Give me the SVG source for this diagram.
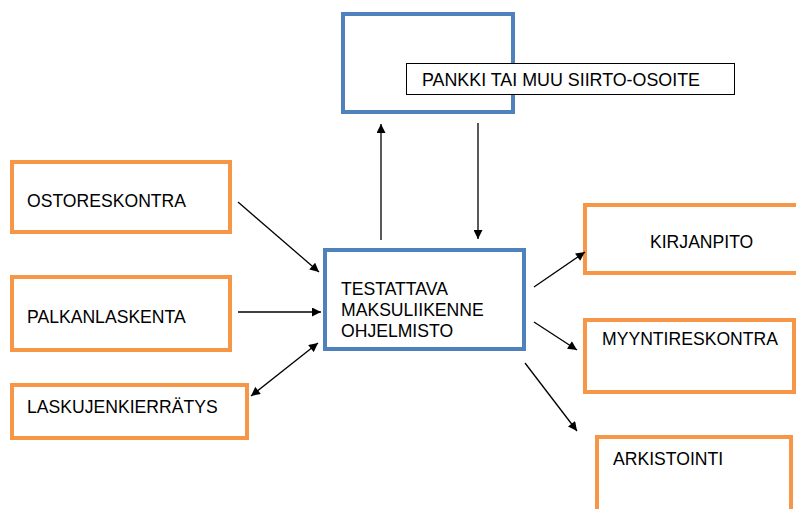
<svg xmlns="http://www.w3.org/2000/svg" width="796" height="509" viewBox="0 0 796 509">
  <style>
    .sys { fill: #ffffff; stroke: #4F81BD; stroke-width: 4; }
    .ext { fill: #ffffff; stroke: #F79646; stroke-width: 4; }
    .lbl { fill: #ffffff; stroke: #000000; stroke-width: 1; }
    text { font-family: "Liberation Sans", Arial, sans-serif; font-size: 17.6px; fill: #000000; }
    .edge { stroke: #000000; stroke-width: 1.3; fill: none; marker-end: url(#arrow); }
  </style>
  <defs>
    <marker id="arrow" viewBox="0 0 10 10" refX="10" refY="5" markerWidth="10" markerHeight="9" markerUnits="userSpaceOnUse" orient="auto-start-reverse">
      <path d="M0,0 L10,5 L0,10 z" fill="#000000"/>
    </marker>
  </defs>

  <rect width="796" height="509" fill="#ffffff"/>

  <!-- bank / transfer address -->
  <g id="pankki">
    <rect class="sys" x="343" y="14" width="170" height="98"/>
    <rect class="lbl" x="406.5" y="63.5" width="328" height="31"/>
    <text x="422" y="86" textLength="278" lengthAdjust="spacingAndGlyphs">PANKKI TAI MUU SIIRTO-OSOITE</text>
  </g>

  <!-- software under test -->
  <g id="testattava">
    <rect class="sys" x="325" y="250" width="199" height="99"/>
    <text x="341" y="295">TESTATTAVA</text>
    <text x="341" y="316">MAKSULIIKENNE</text>
    <text x="341" y="337">OHJELMISTO</text>
  </g>

  <g id="ostoreskontra">
    <rect class="ext" x="12" y="162" width="218" height="70"/>
    <text x="27" y="207">OSTORESKONTRA</text>
  </g>

  <g id="palkanlaskenta">
    <rect class="ext" x="12" y="277" width="218" height="73"/>
    <text x="27" y="323">PALKANLASKENTA</text>
  </g>

  <g id="laskujenkierratys">
    <rect class="ext" x="12" y="385" width="235" height="53"/>
    <text x="27" y="413">LASKUJENKIERRÄTYS</text>
  </g>

  <g id="kirjanpito">
    <rect class="ext" x="585" y="205" width="215" height="68"/>
    <text x="650" y="248">KIRJANPITO</text>
  </g>

  <g id="myyntireskontra">
    <rect class="ext" x="585" y="320" width="209" height="72"/>
    <text x="602" y="345">MYYNTIRESKONTRA</text>
  </g>

  <g id="arkistointi">
    <rect class="ext" x="597" y="437" width="194" height="80"/>
    <text x="613" y="465">ARKISTOINTI</text>
  </g>

  <!-- connectors -->
  <g id="connectors">
    <line class="edge" x1="381" y1="240" x2="381" y2="124"/>
    <line class="edge" x1="478" y1="123" x2="478" y2="239"/>
    <line class="edge" x1="238" y1="202" x2="319" y2="272"/>
    <line class="edge" x1="238" y1="312" x2="321" y2="312"/>
    <line class="edge" x1="318" y1="343" x2="251" y2="396" marker-start="url(#arrow)"/>
    <line class="edge" x1="534" y1="287" x2="585" y2="252"/>
    <line class="edge" x1="534" y1="322" x2="577" y2="350"/>
    <line class="edge" x1="525" y1="363" x2="577" y2="431"/>
  </g>
</svg>
